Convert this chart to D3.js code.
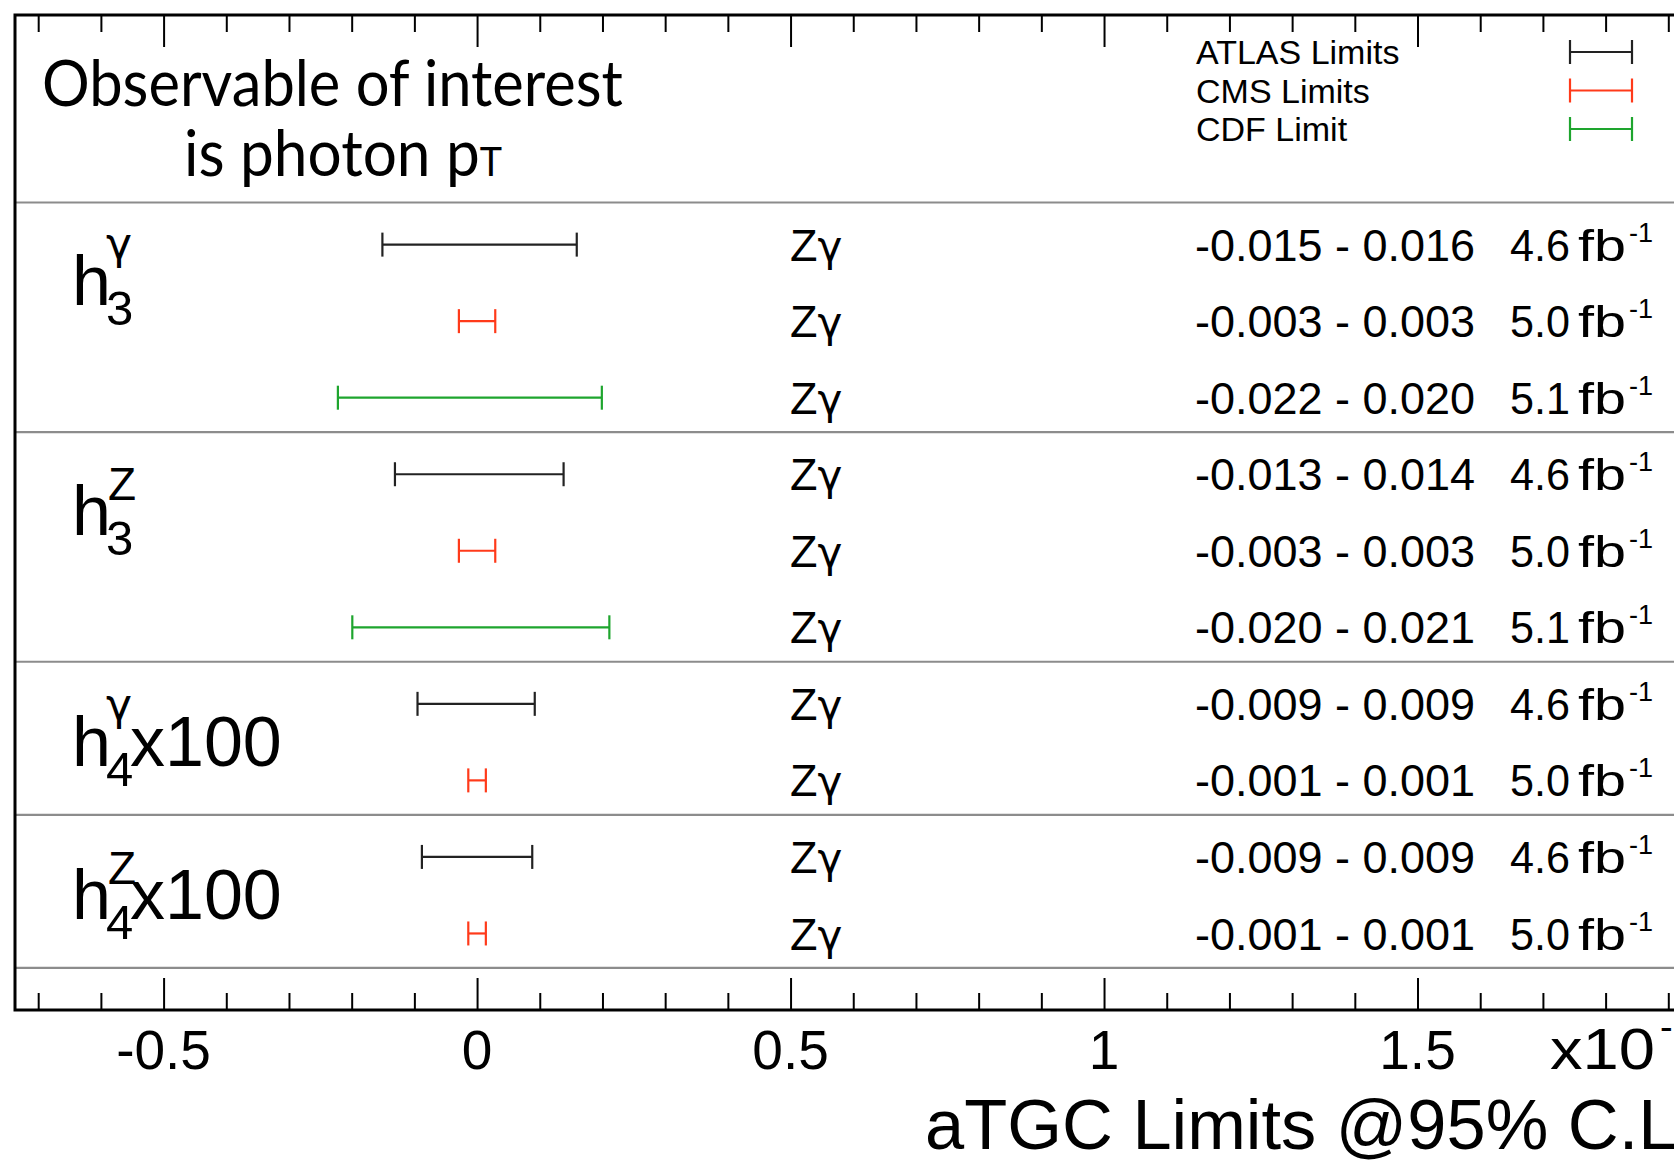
<!DOCTYPE html>
<html><head><meta charset="utf-8">
<script src="https://cdn.jsdelivr.net/npm/d3@7"></script>
<style>
body{margin:0;background:#fff;overflow:hidden}
text{font-family:"Liberation Sans",Arial,sans-serif;fill:#000;white-space:pre}
.g{font-family:"DejaVu Sans",sans-serif}
</style>
</head><body>
<svg id="c" width="1674" height="1160"></svg>
<script>
// ---------- data ----------
const experiments = ["ATLAS Limits", "CMS Limits", "CDF Limit"];
const expColors = ["#222222", "#ff3a1a", "#1ea52e"];
const paramSup = ["γ", "Z", "γ", "Z"];
const paramSub = ["3", "3", "4", "4"];
const paramSuffix = ["", "", "x100", "x100"];
const paramLabelPos = [9.54, 6.53, 3.52, 1.52];
const rowPos = [10, 9, 8, 7, 6, 5, 4, 3, 2, 1];
const rowParam = [0, 0, 0, 1, 1, 1, 2, 2, 3, 3];
const rowExp = [0, 1, 2, 0, 1, 2, 0, 1, 0, 1];
const rowProcess = ["Z", "Z", "Z", "Z", "Z", "Z", "Z", "Z", "Z", "Z"];
const rowProcessGreek = ["γ", "γ", "γ", "γ", "γ", "γ", "γ", "γ", "γ", "γ"];
const barLow = [-0.0151, -0.0029, -0.0222, -0.0131, -0.0029, -0.0199, -0.0095, -0.0014, -0.0088, -0.0014];
const barHigh = [0.0159, 0.0029, 0.0199, 0.0138, 0.0029, 0.0211, 0.0092, 0.0014, 0.0088, 0.0014];
const limitText = ["-0.015 - 0.016", "-0.003 - 0.003", "-0.022 - 0.020", "-0.013 - 0.014", "-0.003 - 0.003",
                   "-0.020 - 0.021", "-0.009 - 0.009", "-0.001 - 0.001", "-0.009 - 0.009", "-0.001 - 0.001"];
const lumiText = ["4.6", "5.0", "5.1", "4.6", "5.0", "5.1", "4.6", "5.0", "4.6", "5.0"];
const lumiUnit = "fb";
const lumiExp = "-1";
const separators = [10.55, 7.55, 4.55, 2.55, 0.55];
const majorTicks = [-0.05, 0, 0.05, 0.1, 0.15];
const minorTicks = d3.range(-7, 20).map(i => i / 100);
const axisExponent = ["x10", "-1"];
const xTitle = "aTGC Limits @95% C.L.";
const noteLines = ["Observable of interest", "is photon p"];
const noteSub = "T";

// ---------- layout ----------
const svg = d3.select("#c");
const L = 15, T = 15, B = 1010, R = 1731;
const x = d3.scaleLinear().domain([-0.0737, 0.2]).range([L, R]);
const y = d3.scaleLinear().domain([0, 13]).range([B, T]);
const CAP = 0.716;

// separators
svg.append("g").selectAll("line").data(separators).join("line")
  .attr("x1", L).attr("x2", R).attr("y1", d => y(d)).attr("y2", d => y(d))
  .attr("stroke", "#8c8c8c").attr("stroke-width", 2.2);

// axes ticks
const MAJ = 32, MIN = 17;
function tickAxis(axisFn, vals, size, ypos) {
  const g = svg.append("g").attr("transform", `translate(0,${ypos})`)
    .call(axisFn(x).tickValues(vals).tickSize(size).tickFormat(""));
  g.select(".domain").remove();
  g.selectAll("line").attr("stroke", "#000").attr("stroke-width", 2);
}
const minorOnly = minorTicks.filter(v => !majorTicks.some(m => Math.abs(m - v) < 1e-9));
tickAxis(d3.axisBottom, minorOnly, -MIN, B);
tickAxis(d3.axisBottom, majorTicks, -MAJ, B);
tickAxis(d3.axisTop, minorOnly, -MIN, T);
tickAxis(d3.axisTop, majorTicks, -MAJ, T);

// frame
svg.append("rect").attr("x", L).attr("y", T).attr("width", R - L).attr("height", B - T)
  .attr("fill", "none").attr("stroke", "#000").attr("stroke-width", 3);

// tick labels
const fmt = v => String(Math.round(v * 100) / 10);
svg.append("g").selectAll("text").data(majorTicks).join("text")
  .attr("x", d => x(d)).attr("y", 1069).attr("text-anchor", "middle")
  .attr("font-size", 55).text(fmt);
svg.append("text").attr("x", 1550).attr("y", 1069).attr("font-size", 58)
  .attr("textLength", 105).attr("lengthAdjust", "spacingAndGlyphs").text(axisExponent[0]);
svg.append("text").attr("x", 1660).attr("y", 1040).attr("font-size", 38).text(axisExponent[1]);

// axis title
svg.append("text").attr("x", 925).attr("y", 1149).attr("font-size", 70)
  .attr("textLength", 772).attr("lengthAdjust", "spacingAndGlyphs").text(xTitle);

// error bars
const CAPH = 12;
const idx = rowPos.map((p, i) => i);
const bars = svg.append("g").selectAll("g").data(idx).join("g")
  .attr("stroke", i => expColors[rowExp[i]]).attr("stroke-width", 2.2).attr("fill", "none");
bars.append("line").attr("x1", i => x(barLow[i])).attr("x2", i => x(barHigh[i]))
  .attr("y1", i => y(rowPos[i])).attr("y2", i => y(rowPos[i]));
bars.append("line").attr("x1", i => x(barLow[i])).attr("x2", i => x(barLow[i]))
  .attr("y1", i => y(rowPos[i]) - CAPH).attr("y2", i => y(rowPos[i]) + CAPH);
bars.append("line").attr("x1", i => x(barHigh[i])).attr("x2", i => x(barHigh[i]))
  .attr("y1", i => y(rowPos[i]) - CAPH).attr("y2", i => y(rowPos[i]) + CAPH);

// row texts
const FS = 44;
const base = i => y(rowPos[i]) + 45 * CAP / 2;
const pt = svg.append("g").selectAll("text").data(idx).join("text")
  .attr("x", 790).attr("y", base).attr("font-size", 45).text(i => rowProcess[i]);
pt.append("tspan").attr("class", "g").attr("font-size", 42).text(i => rowProcessGreek[i]);
svg.append("g").selectAll("text").data(idx).join("text")
  .attr("x", 1195).attr("y", base).attr("font-size", FS)
  .attr("textLength", 280).attr("lengthAdjust", "spacingAndGlyphs").text(i => limitText[i]);
svg.append("g").selectAll("text").data(idx).join("text")
  .attr("x", 1510).attr("y", base).attr("font-size", FS)
  .attr("textLength", 60).attr("lengthAdjust", "spacingAndGlyphs").text(i => lumiText[i]);
svg.append("g").selectAll("text").data(idx).join("text")
  .attr("x", 1578).attr("y", base).attr("font-size", FS)
  .attr("textLength", 48).attr("lengthAdjust", "spacingAndGlyphs").text(lumiUnit);
svg.append("g").selectAll("text").data(idx).join("text")
  .attr("x", 1629).attr("y", i => base(i) - 19).attr("font-size", 27).text(lumiExp);

// parameter labels
const PF = 70, SF = 49;
paramSup.forEach((s, k) => {
  const b = y(paramLabelPos[k]) + PF * CAP / 2;
  const g = s === "γ";
  const t = svg.append("text").attr("x", 72).attr("y", b).attr("font-size", PF).text("h");
  t.append("tspan").attr("x", 106).attr("y", b + 20).attr("font-size", SF).text(paramSub[k]);
  t.append("tspan").attr("x", g ? 106 : 108).attr("y", b - (g ? 46 : 35))
    .attr("font-size", g ? 44 : 46).attr("class", g ? "g" : null).text(s);
  if (paramSuffix[k]) t.append("tspan").attr("x", 130).attr("y", b).attr("font-size", PF).text(paramSuffix[k]);
});

// legend
experiments.forEach((e, k) => {
  const cy = 52 + k * 38.5;
  svg.append("text").attr("x", 1196).attr("y", cy + 12).attr("font-size", 34).text(e);
  const g = svg.append("g").attr("stroke", expColors[k]).attr("stroke-width", 2.2);
  g.append("line").attr("x1", 1570).attr("x2", 1632).attr("y1", cy).attr("y2", cy);
  g.append("line").attr("x1", 1570).attr("x2", 1570).attr("y1", cy - CAPH).attr("y2", cy + CAPH);
  g.append("line").attr("x1", 1632).attr("x2", 1632).attr("y1", cy - CAPH).attr("y2", cy + CAPH);
});

// note (Gill Sans-like)
const nf = "Lato, 'Open Sans', sans-serif";
svg.append("text").attr("x", 42).attr("y", 106).attr("font-size", 64)
  .style("font-family", nf).attr("textLength", 581).attr("lengthAdjust", "spacingAndGlyphs")
  .text(noteLines[0]);
const n2 = svg.append("text").attr("x", 184).attr("y", 176).attr("font-size", 64)
  .style("font-family", nf).attr("textLength", 318).attr("lengthAdjust", "spacingAndGlyphs")
  .text(noteLines[1]);
n2.append("tspan").attr("font-size", 40).text(noteSub);
</script>
</body></html>
